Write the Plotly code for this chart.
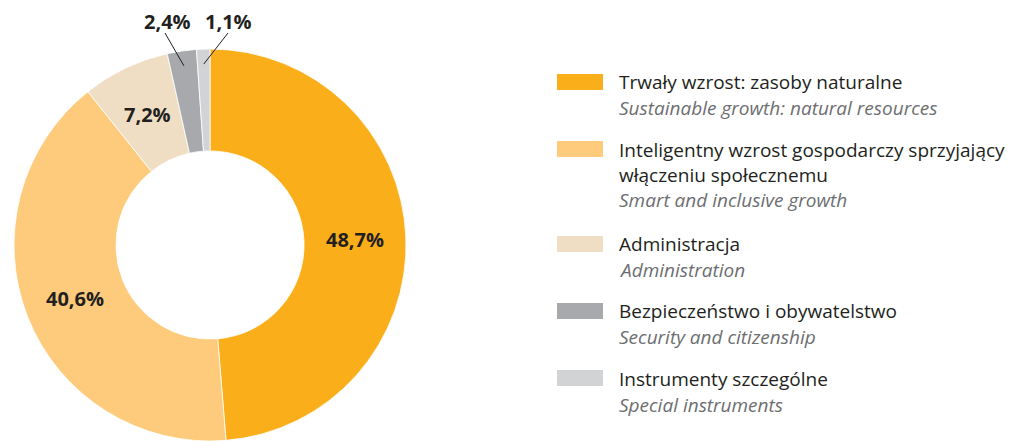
import math
import plotly.graph_objects as go

# ---- data ----
values = [48.7, 40.6, 7.2, 2.4, 1.1]
value_text = ["48,7%", "40,6%", "7,2%", "2,4%", "1,1%"]
labels_pl = [
    "Trwały wzrost: zasoby naturalne",
    "Inteligentny wzrost gospodarczy sprzyjający<br>włączeniu społecznemu",
    "Administracja",
    "Bezpieczeństwo i obywatelstwo",
    "Instrumenty szczególne",
]
labels_en = [
    "Sustainable growth: natural resources",
    "Smart and inclusive growth",
    "Administration",
    "Security and citizenship",
    "Special instruments",
]
colors = ["#F9AE1A", "#FDCB7B", "#EFDEC3", "#A7A9AC", "#D1D3D4"]

# ---- layout constants ----
W, H = 1011, 441
cx, cy, R, HOLE = 210, 245, 196, 0.48
DARK = "#231F20"
GREY = "#6D6E71"
FONT = "Open Sans"


def px(x):
    return x / W


def py(y):
    return 1 - y / H


fig = go.Figure()
fig.add_trace(go.Pie(
    values=values,
    labels=[l.replace("<br>", " ") for l in labels_pl],
    marker=dict(colors=colors, line=dict(color="white", width=0.8)),
    hole=HOLE,
    sort=False,
    direction="clockwise",
    rotation=0,
    textinfo="none",
    hoverinfo="label+percent",
    showlegend=False,
    domain=dict(x=[px(cx - R), px(cx + R)], y=[py(cy + R), py(cy - R)]),
))

annotations = []
shapes = []

# slice labels
total = sum(values)
cum = 0.0
r_mid = (R + R * HOLE) / 2
outside_pos = {3: (167, 21), 4: (228, 21)}
outside_line_end = {3: (165, 33), 4: (228, 33)}
for i, v in enumerate(values):
    mid = (cum + v / 2) / total * 2 * math.pi
    cum += v
    if i in outside_pos:
        sx = cx + 181 * math.sin(mid)
        sy = cy - 181 * math.cos(mid)
        ex, ey = outside_line_end[i]
        shapes.append(dict(type="line", xref="paper", yref="paper",
                           x0=px(sx), y0=py(sy), x1=px(ex), y1=py(ey),
                           line=dict(color=DARK, width=1)))
        tx, ty = outside_pos[i]
    else:
        tx = cx + r_mid * math.sin(mid)
        ty = cy - r_mid * math.cos(mid)
    annotations.append(dict(
        x=px(tx), y=py(ty), xref="paper", yref="paper",
        text=value_text[i], showarrow=False,
        xanchor="center", yanchor="middle",
        font=dict(family=FONT, size=20, color=DARK, weight=700),
    ))

# custom legend
sw_x0, sw_x1, text_x = 557, 603, 617
legend_rows = [
    # (swatch top, main line centres, italic centre)
    (74, [82], 108),
    (141, [150, 175], 200),
    (236, [244], 270),
    (303, [311], 337),
    (370, [379], 405),
]
for i, (sw_top, main_ys, it_y) in enumerate(legend_rows):
    shapes.append(dict(type="rect", xref="paper", yref="paper",
                       x0=px(sw_x0), x1=px(sw_x1), y0=py(sw_top + 16), y1=py(sw_top),
                       fillcolor=colors[i], line=dict(width=0)))
    lines = labels_pl[i].split("<br>")
    for ln, yy in zip(lines, main_ys):
        annotations.append(dict(
            x=px(text_x), y=py(yy), xref="paper", yref="paper",
            text=ln, showarrow=False, xanchor="left", yanchor="middle",
            font=dict(family=FONT, size=19, color=DARK),
        ))
    annotations.append(dict(
        x=px(text_x), y=py(it_y), xref="paper", yref="paper",
        text=labels_en[i], showarrow=False, xanchor="left", yanchor="middle",
        font=dict(family=FONT, size=19, color=GREY, style="italic"),
    ))

fig.update_layout(
    width=W, height=H,
    margin=dict(l=0, r=0, t=0, b=0),
    paper_bgcolor="white", plot_bgcolor="white",
    annotations=annotations, shapes=shapes,
)

fig.write_html("out.html")
